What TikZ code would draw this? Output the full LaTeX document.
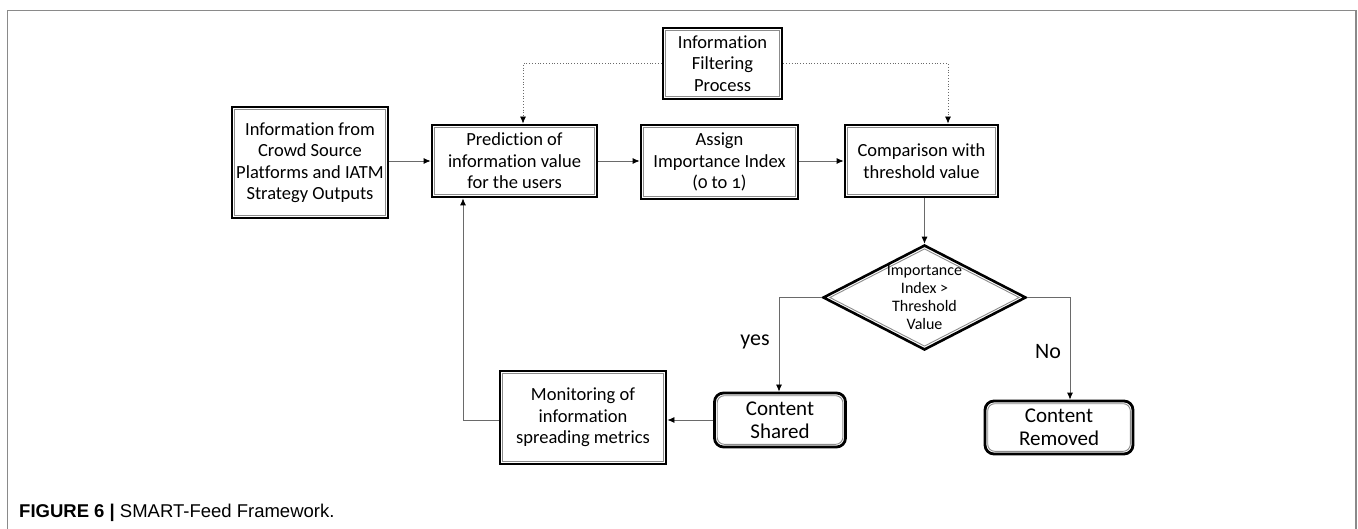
\documentclass[tikz,border=0pt]{standalone}
\usepackage{fontspec}
\setmainfont{Carlito}[Numbers=OldStyle, Ligatures=NoCommon]
\newfontfamily\capfont{Liberation Sans}
\usetikzlibrary{shapes.geometric,arrows.meta,calc}
\definecolor{framegray}{HTML}{8A8A8A}
\definecolor{linegray}{HTML}{6A6A6A}
\definecolor{innergray}{HTML}{8C8C8C}
\tikzset{
  boxnode/.style={draw=black, line width=2.8pt, fill=white, inner sep=0pt, align=center,
    font=\fontsize{18.5}{21.5}\selectfont,
    path picture={\draw[innergray, line width=0.9pt]
      ([shift={(2.7pt,-2.7pt)}]path picture bounding box.north west) rectangle
      ([shift={(-2.7pt,2.7pt)}]path picture bounding box.south east);}},
  roundnode/.style={draw=black, line width=2.8pt, fill=white, inner sep=0pt, align=center,
    rounded corners=9pt, font=\fontsize{21}{23}\selectfont,
    path picture={\draw[innergray, line width=0.9pt, rounded corners=7pt]
      ([shift={(2.7pt,-2.7pt)}]path picture bounding box.north west) rectangle
      ([shift={(-2.7pt,2.7pt)}]path picture bounding box.south east);}},
  decnode/.style={draw=black, line width=2.6pt, fill=white, shape=diamond, inner sep=0pt,
    minimum width=203pt, minimum height=105pt,
    path picture={\draw[innergray, line width=0.9pt]
      ([yshift=-3.4pt]path picture bounding box.north) --
      ([xshift=-6.3pt]path picture bounding box.east) --
      ([yshift=3.4pt]path picture bounding box.south) --
      ([xshift=6.3pt]path picture bounding box.west) -- cycle;}},
  conn/.style={draw=linegray, line width=0.8pt, -{Latex[black,length=7pt,width=6pt]}},
  dotconn/.style={draw=linegray, line width=0.8pt, dotted, -{Latex[black,length=7pt,width=6pt]}},
  lbl/.style={font=\fontsize{22}{24}\selectfont, inner sep=0pt},
}
\begin{document}
\begin{tikzpicture}[x=1pt, y=-1pt]
\useasboundingbox (0,0) rectangle (1358,529);
% figure frame
\draw[framegray, line width=1.5pt] (7.5,529) -- (7.5,10.5) -- (1356,10.5) -- (1356,529);
% nodes
\node[boxnode, minimum width=156pt, minimum height=111pt] (crowd) at (310,162.5)
  {Information from\\Crowd Source\\Platforms and IATM\\Strategy Outputs};
\node[boxnode, minimum width=165pt, minimum height=72pt] (pred) at (514.5,161)
  {Prediction of\\information value\\for the users};
\node[boxnode, minimum width=119pt, minimum height=71pt] (filter) at (722.5,63.5)
  {Information\\Filtering\\Process};
\node[boxnode, minimum width=157pt, minimum height=74pt] (assign) at (719.5,162)
  {Assign\\Importance Index\\(0 to 1)};
\node[boxnode, minimum width=153pt, minimum height=72pt] (comp) at (921.5,161)
  {Comparison with\\threshold value};
\node[decnode] (dec) at (924.5,297.5) {};
\node[align=center, font=\fontsize{16}{18}\selectfont, inner sep=0pt] (dectext) at (dec.center)
  {Importance\\Index >\\Threshold\\Value};
\node[roundnode, minimum width=131pt, minimum height=54pt] (shared) at (780,420)
  {Content\\Shared};
\node[roundnode, minimum width=148pt, minimum height=53pt] (removed) at (1059,427.5)
  {Content\\Removed};
\node[boxnode, minimum width=166pt, minimum height=93pt] (mon) at (583,417.5)
  {Monitoring of\\information\\spreading metrics};
% labels
\node[lbl] (yes) at (755,342) {yes};
\node[lbl] (no) at (1048,352) {No};
% helper coordinates
\coordinate (fl) at (523,63.5);
\coordinate (fr) at (948,63.5);
\coordinate (yl) at (779,297.5);
\coordinate (nr) at (1070,297.5);
\coordinate (ml) at (463,420);
% connectors
\draw[conn] (crowd.east |- pred.west) -- (pred.west);
\draw[conn] (pred.east) -- (assign.west |- pred.east);
\draw[conn] (assign.east |- comp.west) -- (comp.west);
\draw[dotconn] (filter.west) -- (fl) -- (fl |- pred.north);
\draw[dotconn] (filter.east) -- (fr) -- (fr |- comp.north);
\draw[conn] (comp.south -| dec.north) -- (dec.north);
\draw[conn] (dec.west) -- (yl) -- (yl |- shared.north);
\draw[conn] (dec.east) -- (nr) -- (nr |- removed.north);
\draw[conn] (shared.west) -- (mon.east |- shared.west);
\draw[conn] (mon.west |- ml) -- (ml) -- (ml |- pred.south);
% caption
\node[anchor=base west, inner sep=0pt, font=\capfont\fontsize{18.5}{20}\selectfont] (cap) at (19,517)
  {\textbf{FIGURE 6 |} SMART-Feed Framework.};
\end{tikzpicture}
\end{document}
